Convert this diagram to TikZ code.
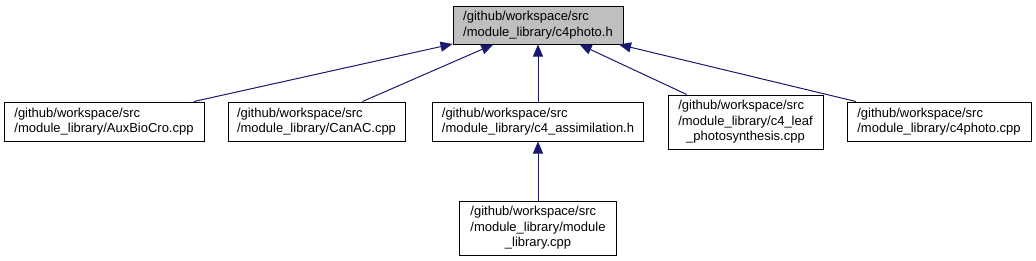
\documentclass[tikz,border=0pt]{standalone}
\usepackage{fontspec}
\setmainfont{Liberation Sans}
\usetikzlibrary{arrows.meta, positioning}
\definecolor{edgeblue}{HTML}{191970}
\definecolor{curfill}{HTML}{BFBFBF}

\begin{document}
\begin{tikzpicture}[
  x=1pt, y=-1pt,
  file/.style={rectangle, draw=black, line width=1pt, fill=white,
               inner sep=0pt, align=left,
               font=\fontsize{13}{15.5}\selectfont},
  current/.style={file, fill=curfill},
  dep/.style={-{Triangle[length=12pt,width=10pt]}, edgeblue, line width=1pt}
]
\useasboundingbox[fill=white] (0,0) rectangle (1036,260);

% The header itself
\node[current, minimum width=170pt, minimum height=38pt] (hdr) at (538,25)
  {/github/workspace/src\\/module\_library/c4photo.h};

% Files that include it
\node[file, minimum width=200pt, minimum height=39pt] (aux) at (104,121.5)
  {/github/workspace/src\\/module\_library/AuxBioCro.cpp};
\node[file, minimum width=177pt, minimum height=39pt] (canac) at (316.5,121.5)
  {/github/workspace/src\\/module\_library/CanAC.cpp};
\node[file, minimum width=211pt, minimum height=39pt] (assim) at (538,121.5)
  {/github/workspace/src\\/module\_library/c4\_assimilation.h};
\node[file, minimum width=155pt, minimum height=54pt] (leaf) at (745.5,122)
  {\begin{tabular}{@{}l@{}}/github/workspace/src\\/module\_library/c4\_leaf\\
   \multicolumn{1}{@{}c@{}}{\_photosynthesis.cpp}\end{tabular}};
\node[file, minimum width=184pt, minimum height=39pt] (photo) at (939,121.5)
  {/github/workspace/src\\/module\_library/c4photo.cpp};

% Second level
\node[file, minimum width=157pt, minimum height=54pt, below=59pt of assim] (modlib)
  {\begin{tabular}{@{}l@{}}/github/workspace/src\\/module\_library/module\\
   \multicolumn{1}{@{}c@{}}{\_library.cpp}\end{tabular}};

% Include edges
\draw[dep] (aux)   -- (hdr);
\draw[dep] (canac) -- (hdr);
\draw[dep] (assim) -- (hdr);
\draw[dep] (leaf)  -- (hdr);
\draw[dep] (photo) -- (hdr);
\draw[dep] (modlib) -- (assim);

\end{tikzpicture}
\end{document}
